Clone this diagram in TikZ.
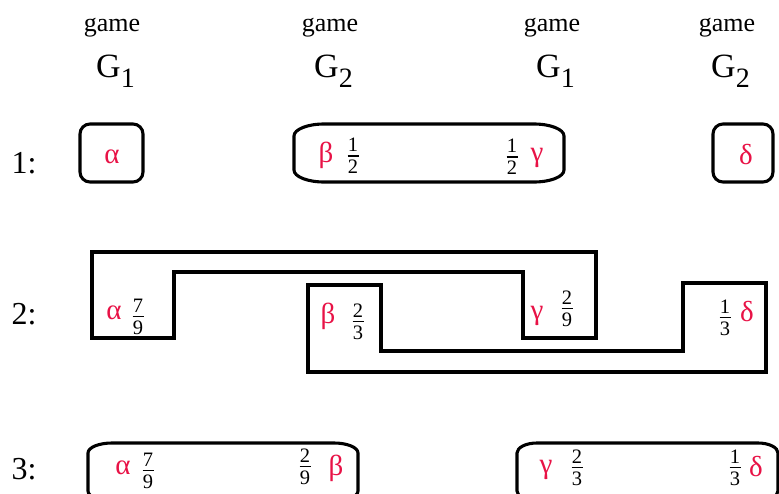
\documentclass[tikz,border=0pt]{standalone}
\usepackage{fontspec}
\setmainfont{Liberation Serif}
\definecolor{greekred}{RGB}{232,18,70}
\newcommand{\fr}[2]{\shortstack{#1\\[0.5pt]\rule{11pt}{1.1pt}\\[0.5pt]#2}}
\newcommand{\gsub}[1]{\raisebox{-10pt}{\fontsize{28}{28}\selectfont #1}}

\begin{document}
\begin{tikzpicture}[x=1pt, y=-1pt,
  box/.style={line width=3.1pt},
  hdr/.style={inner sep=0pt, font=\fontsize{26}{28}\selectfont},
  gname/.style={inner sep=0pt, font=\fontsize{34}{36}\selectfont},
  rowlab/.style={inner sep=0pt, font=\fontsize{32}{34}\selectfont},
  greek/.style={inner sep=0pt, text=greekred, font=\fontsize{29}{30}\selectfont},
  frac/.style={inner sep=0pt, font=\fontsize{20.5}{21}\selectfont}]

\useasboundingbox (0,0) rectangle (779,493);
\clip (0,0) rectangle (779,493);

% --- Заголовки: игры G_1, G_2 ---
\foreach \name/\x/\k in {g1/112/1, g2/330/2, g3/552/1, g4/727/2} {
  \node[hdr] (\name) at (\x, 27.5) {game};
  \node[gname] (G\name) at (\x+3.5, 71) {G\gsub{\k}};
}

% --- Номера строк ---
\foreach \r/\y in {1/163, 2/314, 3/469}
  \node[rowlab] (row\r) at (24, \y) {\r:};

% --- Строка 1 ---
\draw[box, rounded corners=10pt] (80,124) rectangle (143,182);
\draw[box, rounded corners=10pt] (713,124) rectangle (773,182);

% --- Вытянутые рамки (строки 1 и 3) ---
% углы -- четверти эллипса rx x ry
\foreach \xa/\ya/\xb/\yb/\rx/\ry in {294/124/564/182/30/12,
    88/443/358/501/24/10, 517/443/778/501/20/10} {
  \draw[box] (\xa+\rx,\ya) -- (\xb-\rx,\ya)
    .. controls (\xb-0.448*\rx,\ya) and (\xb,\ya+0.448*\ry) .. (\xb,\ya+\ry)
    -- (\xb,\yb-\ry)
    .. controls (\xb,\yb-0.448*\ry) and (\xb-0.448*\rx,\yb) .. (\xb-\rx,\yb)
    -- (\xa+\rx,\yb)
    .. controls (\xa+0.448*\rx,\yb) and (\xa,\yb-0.448*\ry) .. (\xa,\yb-\ry)
    -- (\xa,\ya+\ry)
    .. controls (\xa,\ya+0.448*\ry) and (\xa+0.448*\rx,\ya) .. cycle;
}

% --- Строка 2: две ступенчатые области ---
\draw[box] (92,252) -- (596,252) -- (596,338) -- (523,338) -- (523,272)
  -- (174,272) -- (174,338) -- (92,338) -- cycle;
\draw[box] (308,285) -- (381,285) -- (381,351) -- (683,351) -- (683,283)
  -- (766,283) -- (766,372) -- (308,372) -- cycle;

% --- Греческие буквы ---
\foreach \name/\x/\y/\txt in {
    a1/112/157/α, b1/326/155/β, c1/537/158/γ, d1/746/155/δ,
    a2/114/313/α, b2/328/316/β, c2/537/316/γ, d2/747/312/δ,
    a3/123/468/α, b3/336/468/β, c3/546/470/γ, d3/756/467/δ} {
  \node[greek] (\name) at (\x, \y) {\txt};
}

% --- Дроби ---
\foreach \name/\x/\y/\n/\d in {
    fb1/353/156/1/2, fc1/512/157/1/2,
    fa2/138/317/7/9, fb2/358/322/2/3, fc2/567/309/2/9, fd2/725/318/1/3,
    fa3/148/471/7/9, fb3/305/467/2/9, fc3/577/468/2/3, fd3/735/468/1/3} {
  \node[frac] (\name) at (\x, \y) {\fr{\n}{\d}};
}

\end{tikzpicture}
\end{document}
